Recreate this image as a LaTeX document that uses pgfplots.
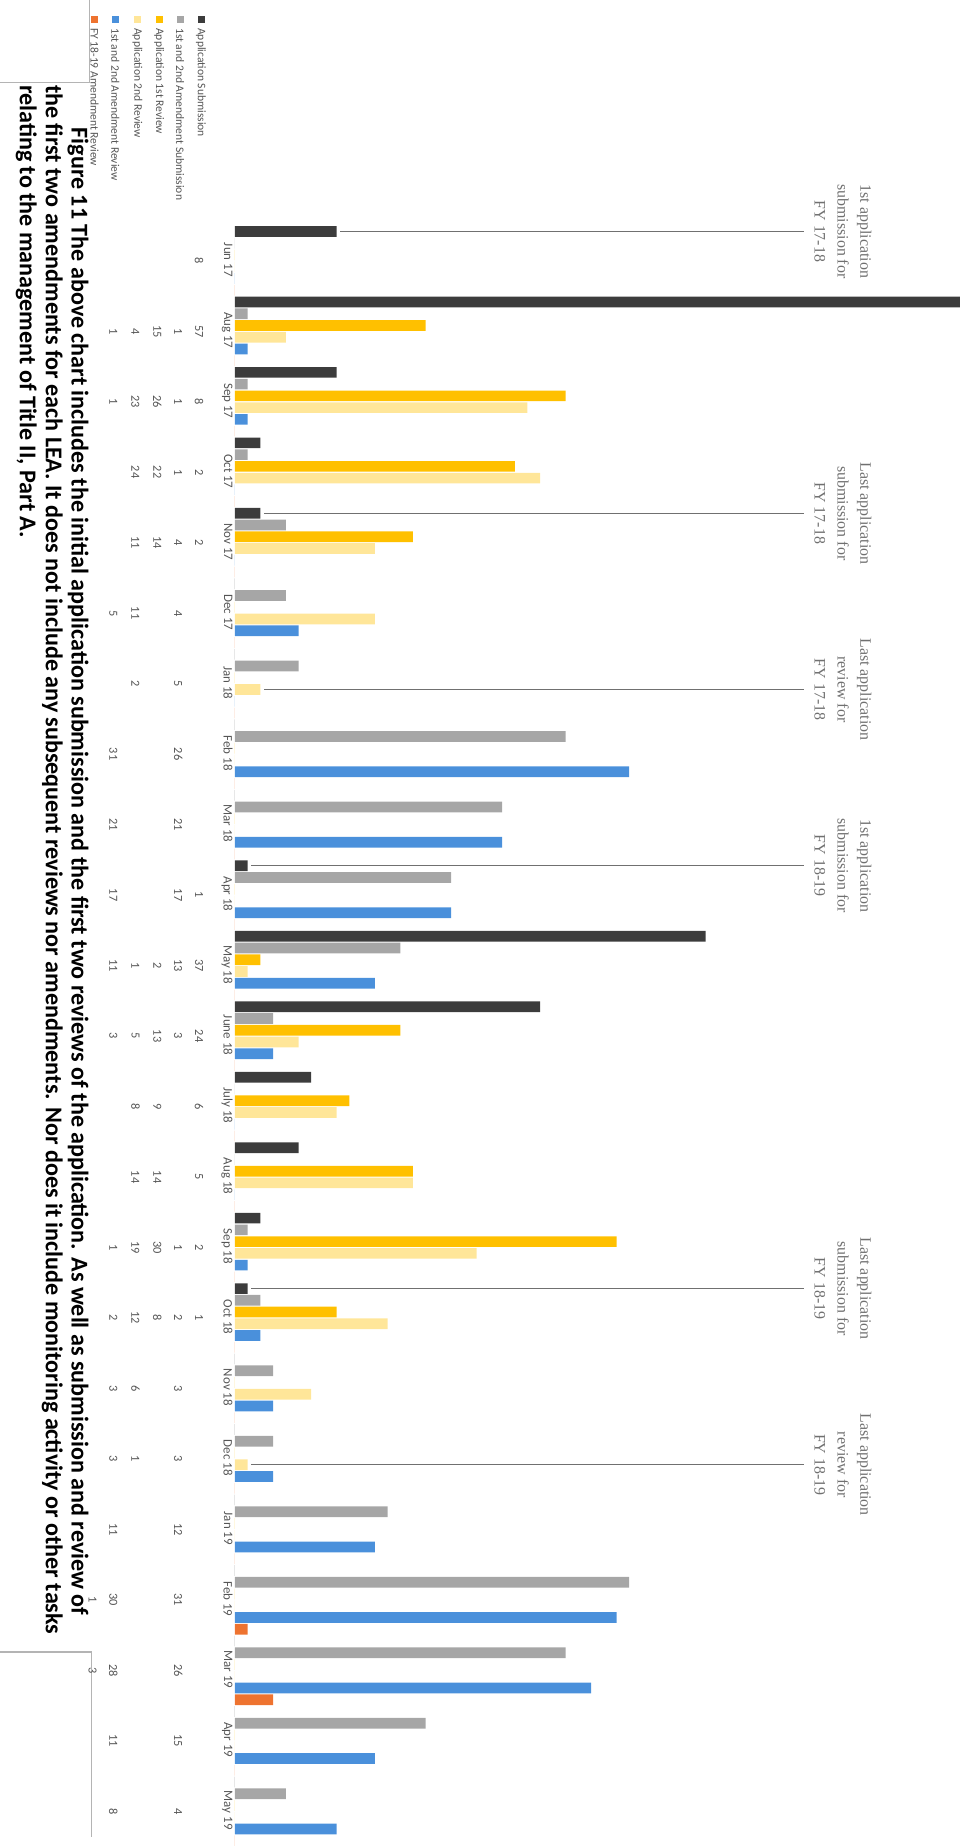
\documentclass[border=0pt]{standalone}
\usepackage{pgfplots}
\pgfplotsset{compat=1.18}
\usepackage{pgfplotstable}
\usepackage{fontspec}
\setmainfont{Carlito}
\newfontfamily\timesfont{Liberation Serif}

\definecolor{csub}{HTML}{3C3C3C}
\definecolor{camsub}{HTML}{A6A6A6}
\definecolor{crevone}{HTML}{FFC000}
\definecolor{crevtwo}{HTML}{FFE699}
\definecolor{camrev}{HTML}{4A90DB}
\definecolor{cfy}{HTML}{EE7330}
\definecolor{notegray}{HTML}{707070}
\definecolor{labgray}{HTML}{555555}
\definecolor{framegray}{HTML}{B4B4B4}

% k = month (0 = Jun 17 ... 22 = May 19)
% sub = application submission, ams = 1st/2nd amendment submission,
% rone/rtwo = application 1st/2nd review, amr = 1st/2nd amendment review,
% fy = FY 18-19 amendment review
\pgfplotstableread{
k  sub ams rone rtwo amr fy
0  8   0   0    0    0   0
1  57  1   15   4    1   0
2  8   1   26   23   1   0
3  2   1   22   24   0   0
4  2   4   14   11   0   0
5  0   4   0    11   5   0
6  0   5   0    2    0   0
7  0   26  0    0    31  0
8  0   21  0    0    21  0
9  1   17  0    0    17  0
10 37  13  2    1    11  0
11 24  3   13   5    3   0
12 6   0   9    8    0   0
13 5   0   14   14   0   0
14 2   1   30   19   1   0
15 1   2   8    12   2   0
16 0   3   0    6    3   0
17 0   3   0    1    3   0
18 0   12  0    0    11  0
19 0   31  0    0    30  1
20 0   26  0    0    28  3
21 0   15  0    0    11  0
22 0   4   0    0    8   0
}\months

\pgfplotsset{
  bars/.style={xbar, bar width=0.152, draw=none},
  cell/.style={draw=none, mark=none, nodes near coords, point meta=explicit,
    /pgf/number format/assume math mode=true,
    nodes near coords align=center,
    every node near coord/.style={rotate=-90, anchor=center, inner sep=0pt,
      font=\fontsize{6.2}{7}\selectfont, text=labgray}},
}

\begin{document}
\begin{tikzpicture}
\begin{scope}[x=0.5pt,y=-0.5pt]
  \path[use as bounding box] (0,0) rectangle (982,1846);
  % page frames
  \draw[framegray, line width=0.8pt] (0,83) -- (90,83) -- (90,0);
  \draw[framegray, line width=0.8pt] (0,1660) -- (92,1660) -- (92,1846);
  % row headers of the data table
  \foreach \xx/\cc/\tt in {202/csub/Application Submission,
      181/camsub/1st and 2nd Amendment Submission,
      160/crevone/Application 1st Review,
      138/crevtwo/Application 2nd Review,
      116/camrev/1st and 2nd Amendment Review,
      95/cfy/FY 18-19 Amendment Review}{
    \fill[\cc] (\xx-3.5,16.5) rectangle (\xx+3.5,23.5);
    \node[rotate=-90, anchor=west, inner sep=0pt, text=labgray,
      font=\fontsize{5.8}{6.5}\selectfont] at (\xx,28) {\tt};
  }
  % caption
  \begin{scope}[every node/.style={rotate=-90, anchor=base west, inner sep=0pt,
      font=\bfseries\fontsize{12.1}{14}\selectfont}]
    \node at (72,128) {Figure 11 The above chart includes the initial application submission and the first two reviews of the application. As well as submission and review of};
    \node at (46,85) {the first two amendments for each LEA. It does not include any subsequent reviews nor amendments. Nor does it include monitoring activity or other tasks};
    \node at (20,85) {relating to the management of Title II, Part A.};
  \end{scope}
\end{scope}

\begin{axis}[
  at={(118pt,-113.3pt)}, anchor=north west,
  scale only axis, width=373pt, height=809.7pt,
  xmin=0, xmax=58.37, ymin=-0.5, ymax=22.37,
  y dir=reverse,
  axis line style={draw=none},
  xtick=\empty,
  ytick={0,...,22},
  yticklabels={Jun 17,Aug 17,Sep 17,Oct 17,Nov 17,Dec 17,Jan 18,Feb 18,Mar 18,Apr 18,May 18,June 18,July 18,Aug 18,Sep 18,Oct 18,Nov 18,Dec 18,Jan 19,Feb 19,Mar 19,Apr 19,May 19},
  major tick length=0pt,
  yticklabel style={rotate=-90, anchor=north, xshift=-0.5pt, inner sep=1pt,
    font=\fontsize{6.5}{7}\selectfont, text=labgray},
  clip=false,
]
  \addplot[bars, fill=csub,    bar shift=-0.41667] table[x=sub,  y=k] {\months};
  \addplot[bars, fill=camsub,  bar shift=-0.25]    table[x=ams,  y=k] {\months};
  \addplot[bars, fill=crevone, bar shift=-0.08333] table[x=rone, y=k] {\months};
  \addplot[bars, fill=crevtwo, bar shift=0.08333]  table[x=rtwo, y=k] {\months};
  \addplot[bars, fill=camrev,  bar shift=0.25]     table[x=amr,  y=k] {\months};
  \addplot[bars, fill=cfy,     bar shift=0.41667]  table[x=fy,   y=k] {\months};

  % data table under the categories (blank where the value is 0)
  \addplot[cell] table[x expr={\thisrow{sub}>0 ? -2.82 : nan},  y=k, meta=sub]  {\months};
  \addplot[cell] table[x expr={\thisrow{ams}>0 ? -4.46 : nan},  y=k, meta=ams]  {\months};
  \addplot[cell] table[x expr={\thisrow{rone}>0 ? -6.1 : nan},  y=k, meta=rone] {\months};
  \addplot[cell] table[x expr={\thisrow{rtwo}>0 ? -7.82 : nan}, y=k, meta=rtwo] {\months};
  \addplot[cell] table[x expr={\thisrow{amr}>0 ? -9.55 : nan},  y=k, meta=amr]  {\months};
  \addplot[cell] table[x expr={\thisrow{fy}>0 ? -11.19 : nan},  y=k, meta=fy]   {\months};

  % milestone notes
  \begin{scope}[every node/.style={rotate=-90, align=center, text=notegray,
      font=\timesfont\fontsize{8}{11.5}\selectfont}]
    \draw[notegray, line width=0.6pt] (axis cs:8.3,-0.41667) -- (axis cs:44.7,-0.41667);
    \node at (axis cs:47.8,-0.41667) {1st application\\submission for\\FY 17-18};
    \draw[notegray, line width=0.6pt] (axis cs:2.3,3.58333) -- (axis cs:44.7,3.58333);
    \node at (axis cs:47.8,3.58333) {Last application\\submission for\\FY 17-18};
    \draw[notegray, line width=0.6pt] (axis cs:2.3,6.08333) -- (axis cs:44.7,6.08333);
    \node at (axis cs:47.8,6.08333) {Last application\\review for\\FY 17-18};
    \draw[notegray, line width=0.6pt] (axis cs:1.3,8.58333) -- (axis cs:44.7,8.58333);
    \node at (axis cs:47.8,8.58333) {1st application\\submission for\\FY 18-19};
    \draw[notegray, line width=0.6pt] (axis cs:1.3,14.58333) -- (axis cs:44.7,14.58333);
    \node at (axis cs:47.8,14.58333) {Last application\\submission for\\FY 18-19};
    \draw[notegray, line width=0.6pt] (axis cs:1.3,17.08333) -- (axis cs:44.7,17.08333);
    \node at (axis cs:47.8,17.08333) {Last application\\review for\\FY 18-19};
  \end{scope}
\end{axis}
\end{tikzpicture}
\end{document}
